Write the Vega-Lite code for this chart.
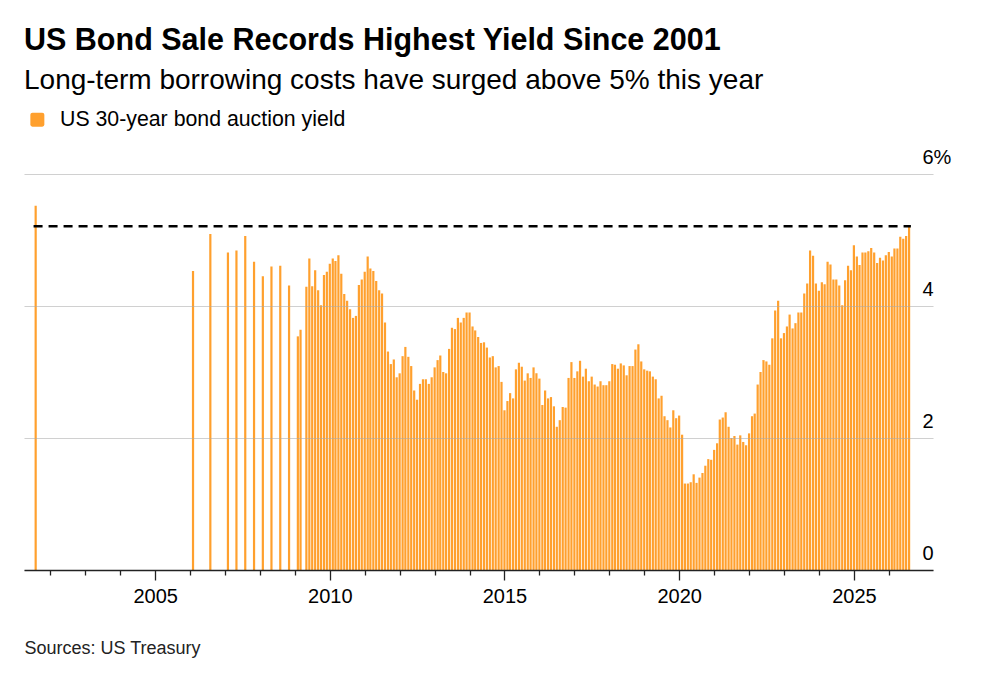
{
  "$schema": "https://vega.github.io/schema/vega-lite/v6.json",
  "width": 909,
  "height": 396,
  "autosize": {"type": "none"},
  "padding": {"left": 24, "top": 174, "right": 53, "bottom": 109},
  "background": "white",
  "config": {"font": "Liberation Sans", "view": {"stroke": null}},
  "title": {
    "text": "US Bond Sale Records Highest Yield Since 2001",
    "subtitle": "Long-term borrowing costs have surged above 5% this year",
    "anchor": "start",
    "frame": "group",
    "fontSize": 30.5,
    "fontWeight": "bold",
    "color": "#000000",
    "subtitleFontSize": 28,
    "subtitleColor": "#000000",
    "subtitlePadding": 10.5,
    "offset": 14,
    "font": "Liberation Sans",
    "subtitleFont": "Liberation Sans"
  },
  "datasets": {
    "auctions": [
      {"date": "2001-08-01", "yield": 5.52},
      {"date": "2006-02-01", "yield": 4.53},
      {"date": "2006-08-01", "yield": 5.09},
      {"date": "2007-02-01", "yield": 4.81},
      {"date": "2007-05-01", "yield": 4.84},
      {"date": "2007-08-01", "yield": 5.06},
      {"date": "2007-11-01", "yield": 4.67},
      {"date": "2008-02-01", "yield": 4.45},
      {"date": "2008-05-01", "yield": 4.60},
      {"date": "2008-08-01", "yield": 4.61},
      {"date": "2008-11-01", "yield": 4.31},
      {"date": "2009-02-01", "yield": 3.54},
      {"date": "2009-03-01", "yield": 3.64},
      {"date": "2009-05-01", "yield": 4.29},
      {"date": "2009-06-01", "yield": 4.72},
      {"date": "2009-07-01", "yield": 4.30},
      {"date": "2009-08-01", "yield": 4.54},
      {"date": "2009-09-01", "yield": 4.24},
      {"date": "2009-10-01", "yield": 4.01},
      {"date": "2009-11-01", "yield": 4.47},
      {"date": "2009-12-01", "yield": 4.52},
      {"date": "2010-01-01", "yield": 4.64},
      {"date": "2010-02-01", "yield": 4.72},
      {"date": "2010-03-01", "yield": 4.68},
      {"date": "2010-04-01", "yield": 4.77},
      {"date": "2010-05-01", "yield": 4.49},
      {"date": "2010-06-01", "yield": 4.18},
      {"date": "2010-07-01", "yield": 4.08},
      {"date": "2010-08-01", "yield": 3.95},
      {"date": "2010-09-01", "yield": 3.82},
      {"date": "2010-10-01", "yield": 3.85},
      {"date": "2010-11-01", "yield": 4.32},
      {"date": "2010-12-01", "yield": 4.40},
      {"date": "2011-01-01", "yield": 4.52},
      {"date": "2011-02-01", "yield": 4.75},
      {"date": "2011-03-01", "yield": 4.57},
      {"date": "2011-04-01", "yield": 4.53},
      {"date": "2011-05-01", "yield": 4.38},
      {"date": "2011-06-01", "yield": 4.24},
      {"date": "2011-07-01", "yield": 4.19},
      {"date": "2011-08-01", "yield": 3.75},
      {"date": "2011-09-01", "yield": 3.31},
      {"date": "2011-10-01", "yield": 3.12},
      {"date": "2011-11-01", "yield": 3.19},
      {"date": "2011-12-01", "yield": 2.92},
      {"date": "2012-01-01", "yield": 2.98},
      {"date": "2012-02-01", "yield": 3.24},
      {"date": "2012-03-01", "yield": 3.38},
      {"date": "2012-04-01", "yield": 3.23},
      {"date": "2012-05-01", "yield": 3.09},
      {"date": "2012-06-01", "yield": 2.72},
      {"date": "2012-07-01", "yield": 2.58},
      {"date": "2012-08-01", "yield": 2.82},
      {"date": "2012-09-01", "yield": 2.89},
      {"date": "2012-10-01", "yield": 2.89},
      {"date": "2012-11-01", "yield": 2.82},
      {"date": "2012-12-01", "yield": 2.92},
      {"date": "2013-01-01", "yield": 3.07},
      {"date": "2013-02-01", "yield": 3.18},
      {"date": "2013-03-01", "yield": 3.25},
      {"date": "2013-04-01", "yield": 3.00},
      {"date": "2013-05-01", "yield": 2.98},
      {"date": "2013-06-01", "yield": 3.35},
      {"date": "2013-07-01", "yield": 3.67},
      {"date": "2013-08-01", "yield": 3.65},
      {"date": "2013-09-01", "yield": 3.82},
      {"date": "2013-10-01", "yield": 3.75},
      {"date": "2013-11-01", "yield": 3.82},
      {"date": "2013-12-01", "yield": 3.90},
      {"date": "2014-01-01", "yield": 3.90},
      {"date": "2014-02-01", "yield": 3.69},
      {"date": "2014-03-01", "yield": 3.63},
      {"date": "2014-04-01", "yield": 3.53},
      {"date": "2014-05-01", "yield": 3.44},
      {"date": "2014-06-01", "yield": 3.45},
      {"date": "2014-07-01", "yield": 3.37},
      {"date": "2014-08-01", "yield": 3.22},
      {"date": "2014-09-01", "yield": 3.24},
      {"date": "2014-10-01", "yield": 3.07},
      {"date": "2014-11-01", "yield": 3.09},
      {"date": "2014-12-01", "yield": 2.85},
      {"date": "2015-01-01", "yield": 2.42},
      {"date": "2015-02-01", "yield": 2.56},
      {"date": "2015-03-01", "yield": 2.68},
      {"date": "2015-04-01", "yield": 2.60},
      {"date": "2015-05-01", "yield": 3.04},
      {"date": "2015-06-01", "yield": 3.14},
      {"date": "2015-07-01", "yield": 3.08},
      {"date": "2015-08-01", "yield": 2.87},
      {"date": "2015-09-01", "yield": 2.98},
      {"date": "2015-10-01", "yield": 2.91},
      {"date": "2015-11-01", "yield": 3.07},
      {"date": "2015-12-01", "yield": 2.98},
      {"date": "2016-01-01", "yield": 2.90},
      {"date": "2016-02-01", "yield": 2.50},
      {"date": "2016-03-01", "yield": 2.72},
      {"date": "2016-04-01", "yield": 2.60},
      {"date": "2016-05-01", "yield": 2.62},
      {"date": "2016-06-01", "yield": 2.48},
      {"date": "2016-07-01", "yield": 2.17},
      {"date": "2016-08-01", "yield": 2.27},
      {"date": "2016-09-01", "yield": 2.47},
      {"date": "2016-10-01", "yield": 2.46},
      {"date": "2016-11-01", "yield": 2.91},
      {"date": "2016-12-01", "yield": 3.15},
      {"date": "2017-01-01", "yield": 2.91},
      {"date": "2017-02-01", "yield": 3.01},
      {"date": "2017-03-01", "yield": 3.17},
      {"date": "2017-04-01", "yield": 2.93},
      {"date": "2017-05-01", "yield": 3.05},
      {"date": "2017-06-01", "yield": 2.86},
      {"date": "2017-07-01", "yield": 2.93},
      {"date": "2017-08-01", "yield": 2.81},
      {"date": "2017-09-01", "yield": 2.78},
      {"date": "2017-10-01", "yield": 2.86},
      {"date": "2017-11-01", "yield": 2.80},
      {"date": "2017-12-01", "yield": 2.80},
      {"date": "2018-01-01", "yield": 2.86},
      {"date": "2018-02-01", "yield": 3.12},
      {"date": "2018-03-01", "yield": 3.11},
      {"date": "2018-04-01", "yield": 3.05},
      {"date": "2018-05-01", "yield": 3.13},
      {"date": "2018-06-01", "yield": 3.10},
      {"date": "2018-07-01", "yield": 2.95},
      {"date": "2018-08-01", "yield": 3.09},
      {"date": "2018-09-01", "yield": 3.09},
      {"date": "2018-10-01", "yield": 3.34},
      {"date": "2018-11-01", "yield": 3.42},
      {"date": "2018-12-01", "yield": 3.16},
      {"date": "2019-01-01", "yield": 3.04},
      {"date": "2019-02-01", "yield": 3.02},
      {"date": "2019-03-01", "yield": 3.01},
      {"date": "2019-04-01", "yield": 2.93},
      {"date": "2019-05-01", "yield": 2.89},
      {"date": "2019-06-01", "yield": 2.60},
      {"date": "2019-07-01", "yield": 2.64},
      {"date": "2019-08-01", "yield": 2.33},
      {"date": "2019-09-01", "yield": 2.27},
      {"date": "2019-10-01", "yield": 2.16},
      {"date": "2019-11-01", "yield": 2.42},
      {"date": "2019-12-01", "yield": 2.30},
      {"date": "2020-01-01", "yield": 2.34},
      {"date": "2020-02-01", "yield": 2.05},
      {"date": "2020-03-01", "yield": 1.31},
      {"date": "2020-04-01", "yield": 1.31},
      {"date": "2020-05-01", "yield": 1.33},
      {"date": "2020-06-01", "yield": 1.45},
      {"date": "2020-07-01", "yield": 1.32},
      {"date": "2020-08-01", "yield": 1.40},
      {"date": "2020-09-01", "yield": 1.47},
      {"date": "2020-10-01", "yield": 1.58},
      {"date": "2020-11-01", "yield": 1.68},
      {"date": "2020-12-01", "yield": 1.67},
      {"date": "2021-01-01", "yield": 1.82},
      {"date": "2021-02-01", "yield": 1.92},
      {"date": "2021-03-01", "yield": 2.28},
      {"date": "2021-04-01", "yield": 2.31},
      {"date": "2021-05-01", "yield": 2.39},
      {"date": "2021-06-01", "yield": 2.17},
      {"date": "2021-07-01", "yield": 2.00},
      {"date": "2021-08-01", "yield": 2.03},
      {"date": "2021-09-01", "yield": 1.90},
      {"date": "2021-10-01", "yield": 2.04},
      {"date": "2021-11-01", "yield": 1.94},
      {"date": "2021-12-01", "yield": 1.89},
      {"date": "2022-01-01", "yield": 2.07},
      {"date": "2022-02-01", "yield": 2.33},
      {"date": "2022-03-01", "yield": 2.37},
      {"date": "2022-04-01", "yield": 2.81},
      {"date": "2022-05-01", "yield": 3.00},
      {"date": "2022-06-01", "yield": 3.18},
      {"date": "2022-07-01", "yield": 3.16},
      {"date": "2022-08-01", "yield": 3.11},
      {"date": "2022-09-01", "yield": 3.51},
      {"date": "2022-10-01", "yield": 3.93},
      {"date": "2022-11-01", "yield": 4.08},
      {"date": "2022-12-01", "yield": 3.51},
      {"date": "2023-01-01", "yield": 3.59},
      {"date": "2023-02-01", "yield": 3.69},
      {"date": "2023-03-01", "yield": 3.87},
      {"date": "2023-04-01", "yield": 3.66},
      {"date": "2023-05-01", "yield": 3.74},
      {"date": "2023-06-01", "yield": 3.90},
      {"date": "2023-07-01", "yield": 3.90},
      {"date": "2023-08-01", "yield": 4.19},
      {"date": "2023-09-01", "yield": 4.34},
      {"date": "2023-10-01", "yield": 4.84},
      {"date": "2023-11-01", "yield": 4.76},
      {"date": "2023-12-01", "yield": 4.34},
      {"date": "2024-01-01", "yield": 4.23},
      {"date": "2024-02-01", "yield": 4.36},
      {"date": "2024-03-01", "yield": 4.33},
      {"date": "2024-04-01", "yield": 4.67},
      {"date": "2024-05-01", "yield": 4.63},
      {"date": "2024-06-01", "yield": 4.40},
      {"date": "2024-07-01", "yield": 4.40},
      {"date": "2024-08-01", "yield": 4.31},
      {"date": "2024-09-01", "yield": 4.01},
      {"date": "2024-10-01", "yield": 4.39},
      {"date": "2024-11-01", "yield": 4.61},
      {"date": "2024-12-01", "yield": 4.54},
      {"date": "2025-01-01", "yield": 4.92},
      {"date": "2025-02-01", "yield": 4.75},
      {"date": "2025-03-01", "yield": 4.62},
      {"date": "2025-04-01", "yield": 4.81},
      {"date": "2025-05-01", "yield": 4.81},
      {"date": "2025-06-01", "yield": 4.83},
      {"date": "2025-07-01", "yield": 4.88},
      {"date": "2025-08-01", "yield": 4.81},
      {"date": "2025-09-01", "yield": 4.65},
      {"date": "2025-10-01", "yield": 4.73},
      {"date": "2025-11-01", "yield": 4.69},
      {"date": "2025-12-01", "yield": 4.77},
      {"date": "2026-01-01", "yield": 4.82},
      {"date": "2026-02-01", "yield": 4.75},
      {"date": "2026-03-01", "yield": 4.87},
      {"date": "2026-04-01", "yield": 4.87},
      {"date": "2026-05-01", "yield": 5.05},
      {"date": "2026-06-01", "yield": 5.02},
      {"date": "2026-07-01", "yield": 5.06},
      {"date": "2026-08-01", "yield": 5.20}
    ],
    "reference": [
      {"date": "2001-07-10", "end": "2026-08-20", "level": 5.21}
    ]
  },
  "encoding": {
    "x": {
      "field": "date",
      "type": "temporal",
      "scale": {
        "type": "utc",
        "domain": [986083200000, 1807142400000],
        "padding": 0,
        "nice": false
      },
      "axis": {
        "values": [
          1009843200000, 1041379200000, 1072915200000, 1104537600000, 1136073600000,
          1167609600000, 1199145600000, 1230768000000, 1262304000000, 1293840000000,
          1325376000000, 1356998400000, 1388534400000, 1420070400000, 1451606400000,
          1483228800000, 1514764800000, 1546300800000, 1577836800000, 1609459200000,
          1640995200000, 1672531200000, 1704067200000, 1735689600000, 1767225600000
        ],
        "format": "%Y",
        "labelExpr": "utcyear(datum.value) % 5 == 0 ? datum.label : ''",
        "grid": false,
        "domainColor": "#222222",
        "domainWidth": 1.6,
        "tickColor": "#222222",
        "tickWidth": 1.3,
        "tickSize": {"condition": {"test": "utcyear(datum.value) % 5 == 0", "value": 10}, "value": 5},
        "labelFontSize": 20,
        "labelColor": "#000000",
        "labelPadding": 6,
        "labelFlush": false,
        "labelOverlap": false,
        "title": "Sources: US Treasury",
        "titleFontSize": 18,
        "titleFontWeight": "normal",
        "titleColor": "#222222",
        "titleAnchor": "start",
        "titleAlign": "left",
        "titlePadding": 33,
        "zindex": 2
      }
    }
  },
  "layer": [
    {
      "data": {"name": "auctions"},
      "mark": {"type": "bar", "size": 2.2},
      "encoding": {
        "y": {
          "field": "yield",
          "type": "quantitative",
          "scale": {"domain": [0, 6], "nice": false, "zero": true},
          "axis": {
            "orient": "right",
            "values": [0, 2, 4, 6],
            "format": "d",
            "domain": false,
            "ticks": false,
            "grid": true,
            "gridColor": "#aaaaaa",
            "gridOpacity": 0.55,
            "gridWidth": 1.2,
            "labelAlign": "left",
            "labelBaseline": "alphabetic",
            "labelPadding": -11,
            "labelOffset": -10.5,
            "labelFontSize": 20,
            "labelColor": "#000000",
            "labelExpr": "datum.value == 6 ? '6%' : datum.label",
            "title": null,
            "zindex": 1
          }
        },
        "color": {
          "datum": "US 30-year bond auction yield",
          "type": "nominal",
          "scale": {"range": ["#ffa02e"]},
          "legend": {
            "title": null,
            "orient": "none",
            "legendX": 2.7,
            "legendY": -65,
            "padding": 0,
            "symbolType": "M -0.7 -1 L 0.7 -1 Q 1 -1 1 -0.7 L 1 0.7 Q 1 1 0.7 1 L -0.7 1 Q -1 1 -1 0.7 L -1 -0.7 Q -1 -1 -0.7 -1 Z",
            "symbolSize": 196,
            "symbolStrokeWidth": 0,
            "symbolOpacity": 1,
            "labelFontSize": 21.3,
            "labelOffset": 12,
            "labelLimit": 500,
            "labelColor": "#000000",
            "labelFont": "Liberation Sans"
          }
        }
      }
    },
    {
      "data": {"name": "reference"},
      "mark": {"type": "rule", "strokeDash": [9, 6], "strokeWidth": 2.5, "color": "#000000"},
      "encoding": {
        "x2": {"field": "end"},
        "y": {"field": "level", "type": "quantitative"}
      }
    }
  ]
}
